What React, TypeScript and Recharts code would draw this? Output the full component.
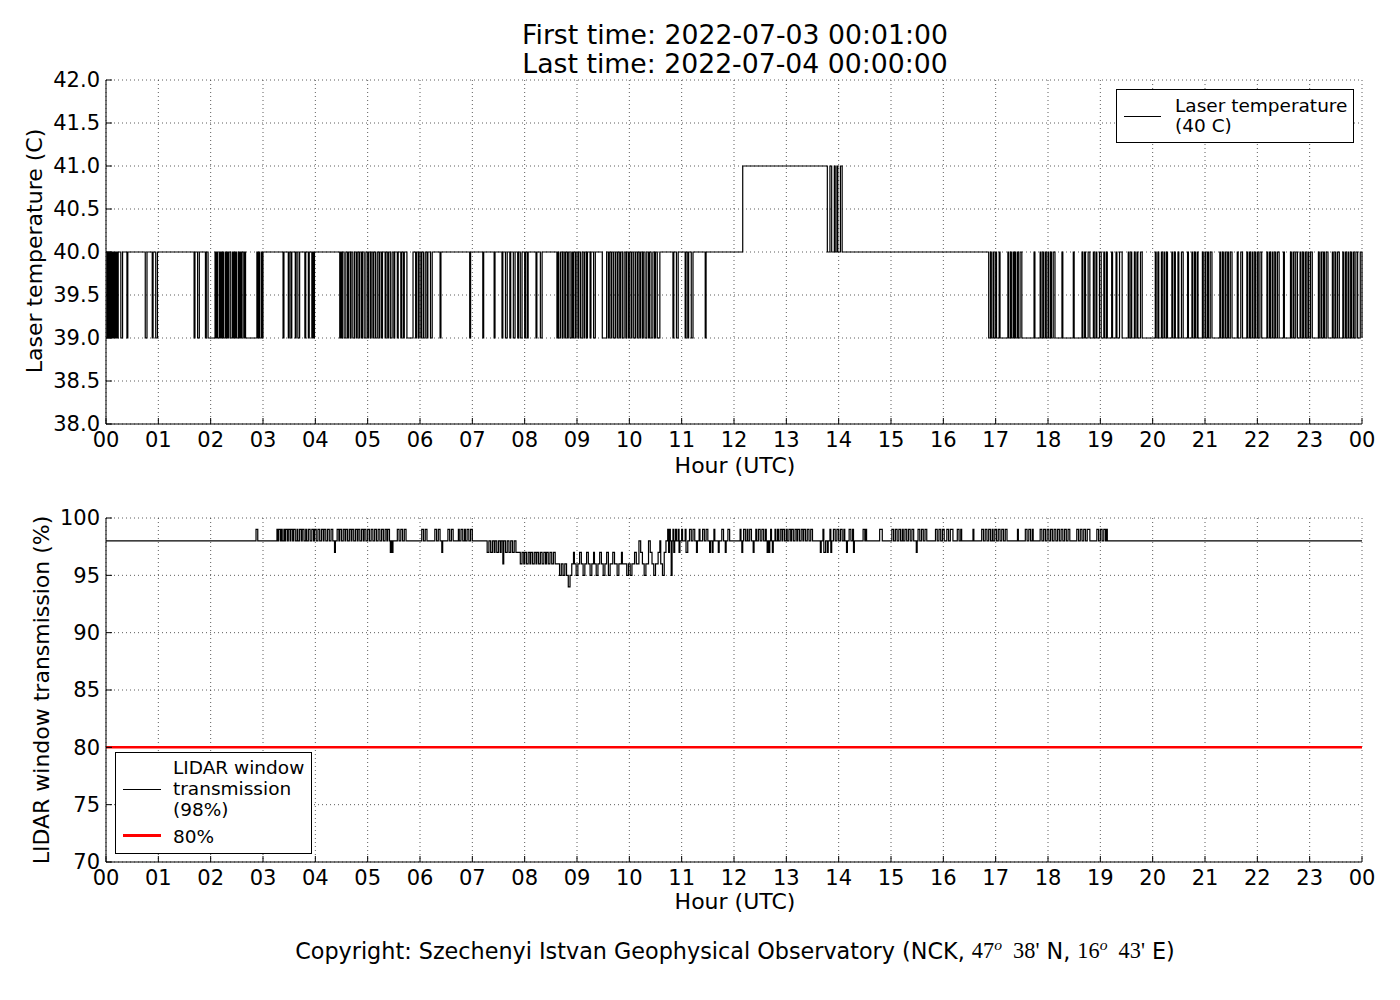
import React from 'react';
import { LineChart, Line, XAxis, YAxis, CartesianGrid, ReferenceLine } from 'recharts';

const FONT = '"DejaVu Sans", sans-serif';
const MATH = '"Liberation Serif", "DejaVu Serif", serif';

const HOUR_TICKS = [0, 1, 2, 3, 4, 5, 6, 7, 8, 9, 10, 11, 12, 13, 14, 15, 16, 17, 18, 19, 20, 21, 22, 23, 24];
const LASER_TICKS = [38, 38.5, 39, 39.5, 40, 40.5, 41, 41.5, 42];
const WINDOW_TICKS = [70, 75, 80, 85, 90, 95, 100];

// laser temperature: base periods [startMin, endMin, value]
const laserBase: number[][] = [[0, 730, 40], [730, 827, 41], [827, 1012, 40], [1012, 1441, 39]];

// minutes where the laser drops to 39 C (morning, base 40)
const laserDips: number[][] = [
  [1, 2], [3, 4], [5, 6], [7, 8], [9, 10], [11, 12], [13, 14], [17, 19], [24, 25], [45, 47], [53, 54], [57, 59],
  [101, 102], [105, 107], [114, 115], [117, 125],
  [126, 127], [128, 130], [131, 132], [133, 134], [135, 137], [138, 139], [140, 141], [143, 145], [146, 147],
  [148, 149], [150, 152], [153, 154], [155, 156], [158, 159], [160, 173], [174, 175], [176, 178], [179, 180],
  [203, 204], [209, 210], [212, 213], [217, 218], [220, 222], [228, 229], [232, 233], [236, 237], [238, 239],
  [268, 269], [270, 271], [273, 275], [277, 278], [280, 281], [283, 285], [287, 288], [290, 291], [293, 294],
  [296, 298], [300, 301], [303, 304], [306, 307], [309, 311], [313, 314], [316, 317], [320, 321], [323, 324],
  [326, 328], [330, 331], [334, 335], [338, 339], [341, 342], [345, 352], [355, 356], [358, 359], [361, 362],
  [364, 366], [368, 369], [372, 374],
  [383, 384], [417, 418], [432, 433], [445, 446], [454, 455], [458, 460], [463, 464], [467, 469], [472, 473],
  [475, 477], [480, 481], [483, 484], [493, 494], [498, 500],
  [517, 518], [519, 521], [523, 524], [526, 527], [529, 530], [532, 534], [535, 536], [538, 539], [541, 542],
  [544, 546], [548, 549], [551, 552], [555, 556], [559, 561], [569, 574],
  [576, 577], [579, 580], [582, 584], [586, 587], [589, 590], [592, 594], [596, 597], [599, 600], [602, 603],
  [605, 607], [609, 610], [612, 613], [615, 616], [618, 620], [622, 623], [625, 627], [629, 630], [632, 635],
  [650, 651], [654, 656], [664, 665], [667, 668], [671, 673], [687, 688],
];

// flicker back up to 41 C around 13:50
const laserHot: number[][] = [[830, 832], [835, 836], [838, 839], [842, 844]];

// minutes where the laser rises to 40 C (evening, base 39)
const laserRises: number[][] = [
  [1014, 1015], [1017, 1018], [1020, 1021], [1024, 1025],
  [1034, 1035], [1037, 1038], [1040, 1041], [1042, 1043], [1045, 1046], [1048, 1050], [1064, 1065],
  [1071, 1072], [1074, 1075], [1077, 1078], [1080, 1081], [1083, 1084], [1086, 1088], [1096, 1097], [1109, 1110],
  [1119, 1120], [1122, 1123], [1126, 1128], [1132, 1133], [1135, 1136], [1139, 1141], [1144, 1145], [1147, 1148],
  [1153, 1154], [1158, 1159], [1162, 1165], [1172, 1173], [1175, 1176], [1179, 1180], [1182, 1183], [1186, 1188],
  [1203, 1204], [1206, 1207], [1210, 1211], [1213, 1214], [1216, 1217], [1222, 1223],
  [1225, 1226], [1229, 1230], [1233, 1235], [1240, 1241], [1245, 1246], [1248, 1249], [1251, 1252], [1257, 1258],
  [1260, 1261], [1263, 1264], [1266, 1268], [1277, 1278], [1280, 1281], [1283, 1284], [1286, 1287], [1289, 1291],
  [1297, 1298], [1301, 1303], [1308, 1309], [1311, 1312], [1314, 1315], [1317, 1318], [1320, 1321], [1323, 1325],
  [1331, 1332], [1334, 1335], [1337, 1338], [1340, 1341], [1343, 1345], [1350, 1351], [1358, 1359], [1361, 1362],
  [1364, 1366], [1369, 1370], [1372, 1373], [1375, 1376], [1378, 1379], [1381, 1383], [1390, 1391], [1393, 1394],
  [1396, 1397], [1399, 1401], [1406, 1407], [1409, 1410], [1412, 1414], [1418, 1419], [1421, 1422], [1424, 1425],
  [1427, 1428], [1430, 1431], [1433, 1435], [1438, 1440],
];

// LIDAR window transmission: [minute, value] at each change
const windowChanges: number[][] = [
  [0, 98], [172, 99], [174, 98],
  [196, 99], [197, 98], [198, 99], [200, 98], [201, 99], [202, 98], [204, 99], [205, 98], [206, 99], [208, 98],
  [209, 99], [211, 98], [212, 99], [214, 98], [215, 99], [217, 98], [219, 99], [220, 98], [222, 99], [224, 98],
  [225, 99], [227, 98], [229, 99], [230, 98], [232, 99], [234, 98], [236, 99], [238, 98], [239, 99], [241, 98],
  [243, 99], [245, 98], [247, 99], [249, 98], [250, 99], [252, 98], [254, 99], [256, 98], [258, 99], [260, 98],
  [262, 97], [263, 98], [265, 99], [267, 98], [268, 99], [270, 98], [272, 99], [274, 98], [275, 99], [277, 98],
  [279, 99], [281, 98], [282, 99], [284, 98], [286, 99], [288, 98], [289, 99], [291, 98], [293, 99], [295, 98],
  [296, 99], [298, 98], [300, 99], [302, 98], [304, 99], [306, 98], [308, 99], [310, 98], [312, 99], [314, 98],
  [316, 99], [318, 98], [320, 99], [322, 98], [323, 99], [325, 98], [326, 97], [327, 98], [328, 97], [329, 98],
  [334, 99], [336, 98], [338, 99], [340, 98], [342, 99], [344, 98],
  [362, 99], [364, 98], [366, 99], [368, 98], [377, 99], [379, 98], [381, 99], [383, 98], [385, 97], [386, 98],
  [392, 99], [394, 98], [396, 99], [398, 98], [404, 99], [405, 98], [407, 99], [409, 98], [411, 99], [412, 98],
  [414, 99], [416, 98], [418, 99], [420, 98],
  [437, 97], [439, 98], [441, 97], [443, 98], [445, 97], [446, 98], [448, 97], [450, 98], [452, 97], [453, 98],
  [455, 96], [456, 98], [458, 97], [460, 98], [462, 97], [464, 98], [466, 97], [468, 98], [470, 97],
  [475, 96], [477, 97], [479, 96], [480, 97], [482, 96], [484, 97], [486, 96], [487, 97], [489, 96], [491, 97],
  [493, 96], [494, 97], [496, 96], [498, 97], [500, 96], [502, 97], [504, 96], [505, 97], [507, 96], [509, 97],
  [511, 96], [513, 97], [515, 96],
  [520, 95], [522, 96], [524, 95], [526, 96], [528, 95], [530, 94], [532, 95], [534, 96], [536, 97], [537, 96],
  [539, 95], [541, 96], [543, 97], [545, 96], [547, 95], [549, 96], [551, 97], [553, 96], [555, 95], [557, 96],
  [559, 97], [560, 96], [562, 95], [564, 96], [566, 97], [568, 96], [570, 95], [572, 96], [574, 97], [576, 95],
  [578, 96], [581, 97], [583, 96], [586, 95], [588, 96], [591, 97], [592, 96],
  [597, 95], [599, 96], [601, 95], [603, 96], [606, 97], [608, 96], [611, 98], [613, 97], [615, 96], [617, 95],
  [619, 96], [622, 98], [624, 97], [626, 96], [628, 95], [630, 96], [633, 97], [635, 98], [636, 96], [638, 95],
  [640, 97], [642, 98],
  [644, 99], [645, 97], [646, 99], [647, 98], [648, 95], [649, 98], [650, 99], [651, 97], [652, 98], [653, 99],
  [654, 98], [656, 99], [657, 97], [658, 98], [660, 99], [661, 98], [664, 99], [665, 97], [667, 98], [669, 99],
  [671, 98], [673, 99], [675, 98], [677, 97], [678, 98], [680, 99], [681, 98], [684, 99], [686, 98], [688, 99],
  [690, 98], [692, 97], [693, 98], [695, 97], [696, 98], [697, 99], [698, 98], [702, 97], [703, 98], [706, 99],
  [708, 98], [710, 97], [711, 98], [713, 99], [715, 98],
  [727, 99], [728, 98], [729, 97], [730, 98], [731, 99], [733, 98], [735, 99], [736, 98], [738, 99], [740, 98],
  [742, 97], [743, 98], [745, 99], [746, 98], [748, 99], [750, 98], [752, 99], [754, 98], [756, 99], [757, 98],
  [758, 97], [759, 98], [760, 97], [761, 98], [762, 99], [763, 98], [764, 97], [765, 98], [767, 99], [768, 98],
  [770, 99], [771, 98], [773, 99], [775, 98], [776, 99], [778, 98], [780, 99], [781, 98], [783, 99], [785, 98],
  [786, 99], [788, 98], [790, 99], [792, 98], [793, 99], [795, 98], [797, 99], [799, 98], [800, 99], [802, 98],
  [804, 99], [806, 98], [808, 99], [810, 98],
  [819, 97], [820, 98], [822, 99], [823, 97], [825, 98], [827, 97], [828, 98], [830, 99], [831, 97], [832, 98],
  [834, 99], [836, 98], [838, 99], [840, 98], [842, 99], [844, 98], [846, 99], [847, 98], [849, 97], [850, 98],
  [852, 99], [854, 98], [856, 99], [857, 97], [858, 98], [868, 99], [870, 98], [871, 99], [872, 98],
  [887, 99], [890, 98],
  [901, 99], [903, 98], [905, 99], [907, 98], [909, 99], [911, 98], [913, 99], [914, 98], [916, 99], [918, 98],
  [920, 99], [922, 98], [924, 99], [926, 98], [929, 97], [930, 98], [931, 99], [933, 98],
  [935, 99], [937, 98], [939, 99], [941, 98], [951, 99], [953, 98], [955, 99], [957, 98], [959, 99], [961, 98],
  [964, 99], [966, 98], [968, 99], [971, 98], [976, 99], [978, 98], [980, 99], [981, 98], [994, 99], [995, 98],
  [1004, 99], [1006, 98], [1008, 99], [1010, 98], [1012, 99], [1014, 98], [1016, 99], [1017, 98], [1019, 99],
  [1021, 98], [1023, 99], [1025, 98], [1027, 99], [1029, 98], [1031, 99], [1033, 98], [1045, 99], [1046, 98],
  [1054, 99], [1056, 98], [1058, 99], [1060, 98], [1062, 99], [1063, 98],
  [1071, 99], [1073, 98], [1075, 99], [1077, 98], [1079, 99], [1081, 98], [1083, 99], [1085, 98], [1087, 99],
  [1089, 98], [1091, 99], [1093, 98], [1095, 99], [1097, 98], [1099, 99], [1101, 98], [1103, 99], [1105, 98],
  [1113, 99], [1115, 98], [1117, 99], [1119, 98], [1121, 99], [1123, 98], [1125, 99], [1128, 98],
  [1136, 99], [1138, 98], [1140, 99], [1142, 98], [1144, 99], [1146, 98], [1147, 99], [1148, 98],
  [1440, 98],
];

const THRESHOLD = 80;

function buildLaser() {
  const vals: number[] = new Array(1441).fill(40);
  laserBase.forEach(([s, e, v]) => { for (let m = s; m < e; m++) vals[m] = v; });
  const paint = (list: number[][], v: number) =>
    list.forEach(([s, e]) => { for (let m = s; m < e; m++) vals[m] = v; });
  paint(laserDips, 39);
  paint(laserHot, 41);
  paint(laserRises, 40);
  return vals.map((v, m) => ({ t: m / 60, v }));
}

const laserData = buildLaser();
const windowData = windowChanges.map(([m, v]) => ({ t: m / 60, v }));

const hourLabel = (h: number) => String(h % 24).padStart(2, '0');
const tickStyle = { fill: '#000', fontSize: 21, fontFamily: FONT };
const axisLine = { stroke: '#000', strokeWidth: 1 };
const tickLine = { stroke: '#000', strokeWidth: 1 };

function Label({ x, y, size, children, rotate }: { x: number; y: number; size: number; children: React.ReactNode; rotate?: boolean }) {
  return (
    <div
      style={{
        position: 'absolute', left: x, top: y, fontSize: size, fontFamily: FONT, color: '#000',
        whiteSpace: 'nowrap', lineHeight: 1,
        transform: `translate(-50%, -50%)${rotate ? ' rotate(-90deg)' : ''}`,
      }}
    >
      {children}
    </div>
  );
}

export default function App() {
  return (
    <div style={{ position: 'absolute', left: 0, top: 0, width: 1400, height: 1000, background: '#fff', fontFamily: FONT }}>
      <Label x={735} y={35} size={26.7}>First time: 2022-07-03 00:01:00</Label>
      <Label x={735} y={64} size={26.7}>Last time: 2022-07-04 00:00:00</Label>

      <div style={{ position: 'absolute', left: 0, top: 0 }}>
        <LineChart width={1400} height={480} data={laserData} margin={{ top: 80, right: 38, left: 0, bottom: 0 }}>
          <CartesianGrid xAxisId="b" yAxisId="l" stroke="#333" strokeDasharray="1 3" strokeWidth={0.8} />
          <XAxis xAxisId="b" dataKey="t" type="number" domain={[0, 24]} ticks={HOUR_TICKS} interval={0}
            tickFormatter={hourLabel} height={56} tick={tickStyle} axisLine={axisLine} tickLine={tickLine}
            tickSize={-6} tickMargin={14} />
          <XAxis xAxisId="t" orientation="top" dataKey="t" type="number" domain={[0, 24]} ticks={HOUR_TICKS}
            interval={0} height={0} tick={false} axisLine={axisLine} tickLine={tickLine} tickSize={-6} />
          <YAxis yAxisId="l" type="number" domain={[38, 42]} ticks={LASER_TICKS} interval={0}
            tickFormatter={(v: number) => v.toFixed(1)} width={106} tick={tickStyle} axisLine={axisLine}
            tickLine={tickLine} tickSize={-6} tickMargin={12} />
          <YAxis yAxisId="r" orientation="right" type="number" domain={[38, 42]} ticks={LASER_TICKS} interval={0}
            width={0} tick={false} axisLine={axisLine} tickLine={tickLine} tickSize={-6} />
          <Line xAxisId="b" yAxisId="l" type="stepAfter" dataKey="v" stroke="#000" strokeWidth={1.2}
            dot={false} isAnimationActive={false} />
        </LineChart>
      </div>
      <Label x={735} y={466} size={22}>Hour (UTC)</Label>
      <Label x={35} y={251} size={22} rotate>Laser temperature (C)</Label>

      <div style={{ position: 'absolute', left: 1116, top: 89, width: 236, height: 52, border: '1px solid #000', background: '#fff' }}>
        <div style={{ position: 'absolute', left: 7, top: 26, width: 37, height: 1, background: '#000' }} />
        <div style={{ position: 'absolute', left: 58, top: 6, fontSize: 18.5, lineHeight: '20px', color: '#000', whiteSpace: 'nowrap' }}>
          Laser temperature<br />(40 C)
        </div>
      </div>

      <div style={{ position: 'absolute', left: 0, top: 480 }}>
        <LineChart width={1400} height={420} data={windowData} margin={{ top: 38, right: 38, left: 0, bottom: 0 }}>
          <CartesianGrid xAxisId="b" yAxisId="l" stroke="#333" strokeDasharray="1 3" strokeWidth={0.8} />
          <XAxis xAxisId="b" dataKey="t" type="number" domain={[0, 24]} ticks={HOUR_TICKS} interval={0}
            tickFormatter={hourLabel} height={38} tick={tickStyle} axisLine={axisLine} tickLine={tickLine}
            tickSize={-6} tickMargin={14} />
          <XAxis xAxisId="t" orientation="top" dataKey="t" type="number" domain={[0, 24]} ticks={HOUR_TICKS}
            interval={0} height={0} tick={false} axisLine={axisLine} tickLine={tickLine} tickSize={-6} />
          <YAxis yAxisId="l" type="number" domain={[70, 100]} ticks={WINDOW_TICKS} interval={0}
            width={106} tick={tickStyle} axisLine={axisLine} tickLine={tickLine} tickSize={-6} tickMargin={12} />
          <YAxis yAxisId="r" orientation="right" type="number" domain={[70, 100]} ticks={WINDOW_TICKS} interval={0}
            width={0} tick={false} axisLine={axisLine} tickLine={tickLine} tickSize={-6} />
          <ReferenceLine xAxisId="b" yAxisId="l" y={THRESHOLD} stroke="#ff0000" strokeWidth={2.5} />
          <Line xAxisId="b" yAxisId="l" type="stepAfter" dataKey="v" stroke="#000" strokeWidth={1.2}
            dot={false} isAnimationActive={false} />
        </LineChart>
      </div>
      <Label x={735} y={902} size={22}>Hour (UTC)</Label>
      <Label x={42} y={690} size={22} rotate>LIDAR window transmission (%)</Label>

      <div style={{ position: 'absolute', left: 115, top: 752, width: 195, height: 100, border: '1px solid #000', background: '#fff' }}>
        <div style={{ position: 'absolute', left: 7, top: 36, width: 38, height: 1, background: '#000' }} />
        <div style={{ position: 'absolute', left: 7, top: 81, width: 38, height: 3, background: '#ff0000' }} />
        <div style={{ position: 'absolute', left: 57, top: 4, fontSize: 18.5, lineHeight: '21px', color: '#000', whiteSpace: 'nowrap' }}>
          LIDAR window<br />transmission<br />(98%)
        </div>
        <div style={{ position: 'absolute', left: 57, top: 73, fontSize: 18.5, lineHeight: '21px', color: '#000', whiteSpace: 'nowrap' }}>
          80%
        </div>
      </div>

      <Label x={735} y={950} size={22.3}>
        Copyright: Szechenyi Istvan Geophysical Observatory (NCK,{' '}
        <span style={{ fontFamily: MATH }}>47<sup style={{ fontStyle: 'italic', fontSize: '0.7em' }}>o</sup>&nbsp; 38'</span> N,{' '}
        <span style={{ fontFamily: MATH }}>16<sup style={{ fontStyle: 'italic', fontSize: '0.7em' }}>o</sup>&nbsp; 43'</span> E)
      </Label>
    </div>
  );
}
